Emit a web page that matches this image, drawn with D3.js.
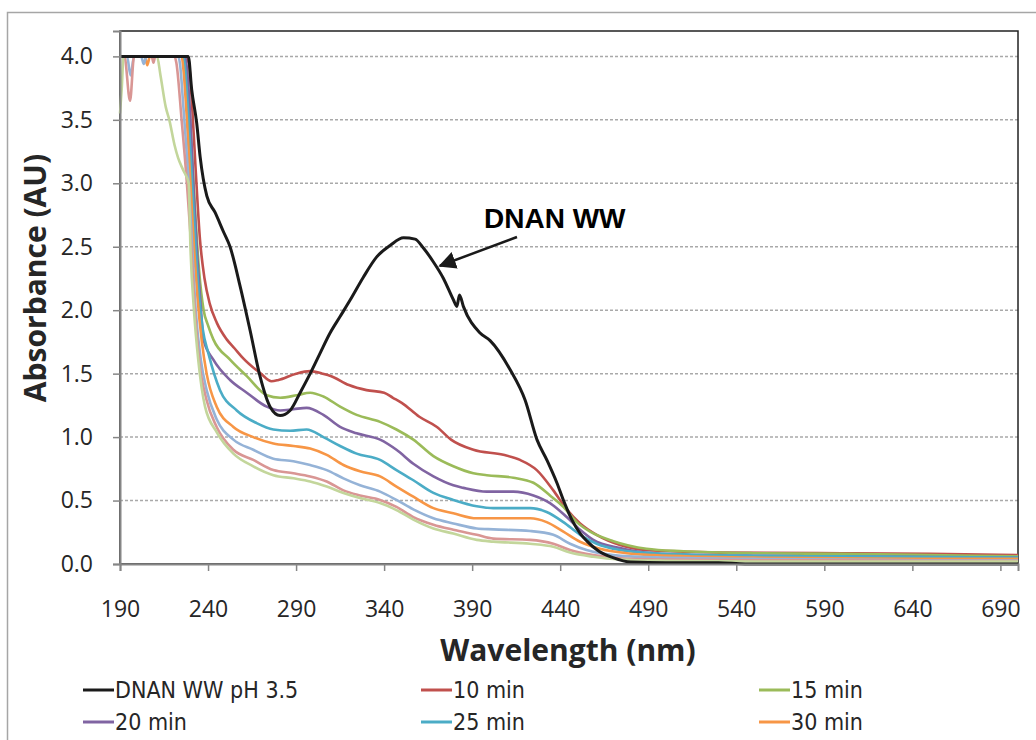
<!DOCTYPE html>
<html><head><meta charset="utf-8">
<script src="https://cdn.jsdelivr.net/npm/d3@7"></script>
<style>html,body{margin:0;padding:0;background:#fff;}svg{display:block;}</style>
</head><body>
<svg id="chart" width="1036" height="740"></svg>
<script>
// ---- data ----
const xTicks = [190,240,290,340,390,440,490,540,590,640,690];
const yTicks = [0,0.5,1.0,1.5,2.0,2.5,3.0,3.5,4.0];
const seriesNames = ["DNAN WW pH 3.5","10 min","15 min","20 min","25 min","30 min","35 min","40 min","45 min"];
const seriesColors = ["#1a1a1a","#C0504D","#9BBB59","#8064A2","#4BACC6","#F79646","#95B3D7","#D99694","#C3D69B"];
const legendVisibleCount = 6; // the reference frame cuts the legend after two rows

const dnanWW = [[190,4.0],[228.8,4.0],[230.7,3.74],[233.6,3.47],[235.5,3.21],[239.3,2.90],[244,2.77],[248.7,2.62],[252.5,2.50],[258.2,2.19],[263.9,1.84],[269.5,1.48],[275.2,1.24],[280.9,1.17],[286.6,1.21],[292.3,1.35],[298,1.50],[303.6,1.66],[309.3,1.82],[315,1.95],[320.7,2.08],[328.2,2.26],[335.8,2.42],[343.4,2.51],[351,2.57],[357.6,2.56],[362.3,2.49],[368,2.38],[373.7,2.25],[379.4,2.08],[381.3,2.03],[382.8,2.12],[385,2.03],[394.5,1.82],[400.2,1.76],[411.6,1.53],[420.1,1.29],[426.8,0.98],[432.4,0.82],[438.1,0.64],[441.9,0.50],[446.6,0.35],[451.4,0.24],[455.2,0.18],[462,0.10],[470,0.05],[480,0.015],[500,0.01],[530,0.01],[545,0.0],[700,0.0]];
const min10 = [[190,4.0],[226,4.0],[229,3.95],[231,3.6],[233,3.1],[235.4,2.56],[238,2.25],[241,2.05],[245,1.9],[250.6,1.77],[255,1.70],[260,1.62],[270,1.50],[276,1.44],[280,1.45],[290,1.50],[298,1.52],[305,1.50],[310,1.48],[320,1.41],[330,1.37],[340,1.35],[345,1.31],[350,1.27],[360,1.16],[370,1.08],[378,0.98],[390.7,0.90],[407.7,0.86],[417.2,0.82],[426.7,0.74],[436.1,0.58],[443.7,0.43],[451.3,0.32],[460.7,0.23],[474,0.15],[489,0.11],[512,0.097],[531,0.09],[600,0.085],[650,0.08],[700,0.07]];
const min15 = [[190,4.0],[226,4.0],[228,3.9],[229,3.7],[231,3.2],[233,2.7],[235,2.3],[237.5,2.0],[240,1.88],[243,1.77],[252.5,1.61],[262,1.48],[273.3,1.33],[281,1.31],[290.4,1.33],[298,1.35],[305.5,1.32],[315,1.24],[324.4,1.175],[337.7,1.12],[347,1.06],[356.6,0.98],[368,0.85],[379.3,0.77],[390.7,0.715],[398.3,0.70],[413.4,0.68],[424.8,0.64],[434.2,0.54],[441.8,0.45],[449.4,0.33],[457,0.255],[470.2,0.18],[489,0.12],[510,0.10],[550,0.085],[600,0.08],[650,0.07],[700,0.06]];
const min20 = [[190,4.0],[227,4.0],[228,3.9],[230,3.5],[232,2.9],[234,2.4],[236,2.0],[237.4,1.77],[243,1.61],[252.5,1.45],[262,1.35],[273.3,1.24],[281,1.21],[288.5,1.22],[296,1.23],[305.5,1.175],[315,1.08],[324.4,1.03],[337.7,0.98],[347,0.90],[356.6,0.79],[368,0.69],[379.3,0.62],[385,0.60],[398.3,0.57],[413.4,0.57],[424.8,0.54],[434.2,0.48],[443.7,0.37],[451.3,0.27],[458.8,0.19],[474,0.125],[493,0.085],[550,0.065],[600,0.06],[650,0.055],[700,0.05]];
const min25 = [[190,4.0],[226,4.0],[227,3.9],[229,3.5],[231,3.0],[233,2.5],[235,2.1],[237,1.85],[240.2,1.66],[246.8,1.37],[256.3,1.21],[267.6,1.11],[277.1,1.06],[286.6,1.05],[296,1.06],[305.5,1.00],[315,0.93],[324.4,0.87],[337.7,0.82],[347,0.74],[356.6,0.66],[368,0.56],[379.3,0.505],[392.6,0.455],[402,0.44],[422.9,0.44],[432.3,0.41],[441.8,0.33],[451.3,0.23],[460.7,0.16],[474,0.11],[493,0.085],[550,0.065],[600,0.06],[650,0.055],[700,0.05]];
const min30 = [[190,4.0],[204,4.0],[205.5,3.93],[207,4.0],[225,4.0],[226,3.9],[228,3.5],[230,3.0],[232,2.5],[234,2.1],[236.5,1.75],[239.2,1.50],[244.9,1.24],[254.4,1.08],[265.7,1.00],[277.1,0.95],[288.5,0.93],[298,0.91],[307.4,0.86],[316.9,0.78],[326.3,0.73],[337.7,0.69],[347,0.61],[356.6,0.53],[368,0.44],[379.3,0.40],[392.6,0.36],[402,0.36],[422.9,0.36],[432.3,0.33],[441.8,0.255],[451.3,0.175],[462.6,0.12],[477.8,0.085],[493,0.07],[550,0.05],[600,0.045],[650,0.04],[700,0.04]];
const min35 = [[190,4.0],[194,4.0],[196,3.85],[198,4.0],[202,4.0],[203.5,3.94],[205,4.0],[223,4.0],[224,3.95],[226,3.6],[229,3.0],[231,2.5],[233,2.0],[236,1.6],[239.2,1.37],[244.9,1.14],[254.4,0.98],[265.7,0.90],[277.1,0.83],[288.5,0.81],[298,0.78],[307.4,0.74],[316.9,0.675],[326.3,0.62],[337.7,0.57],[347,0.505],[356.6,0.43],[368,0.36],[379.3,0.32],[392.6,0.28],[402,0.273],[422.9,0.26],[436.1,0.23],[445.6,0.16],[455,0.11],[470.2,0.07],[493,0.052],[550,0.04],[600,0.035],[650,0.03],[700,0.03]];
const min40 = [[190,4.0],[192.5,4.0],[195.7,3.65],[198,4.0],[208,4.0],[209,3.95],[210,4.0],[221,4.0],[222,3.95],[225,3.5],[228,3.0],[230,2.6],[232,2.1],[235,1.6],[239.2,1.29],[244.9,1.08],[254.4,0.90],[265.7,0.82],[277.1,0.74],[288.5,0.715],[298,0.69],[307.4,0.65],[316.9,0.58],[326.3,0.54],[337.7,0.505],[347,0.45],[356.6,0.37],[368,0.31],[379.3,0.27],[392.6,0.23],[402,0.20],[422.9,0.19],[436.1,0.16],[445.6,0.11],[458.8,0.07],[474,0.045],[500,0.035],[550,0.03],[600,0.03],[650,0.025],[700,0.025]];
const min45 = [[190,3.55],[191,3.75],[192,4.0],[211,4.0],[213,3.85],[216,3.6],[218,3.5],[221,3.3],[223,3.2],[226,3.1],[229,3.0],[230,2.5],[232,2.0],[234.5,1.6],[238.3,1.24],[244.9,1.04],[254.4,0.87],[265.7,0.77],[277.1,0.70],[288.5,0.675],[298,0.65],[307.4,0.61],[316.9,0.56],[326.3,0.52],[337.7,0.48],[347,0.425],[356.6,0.35],[368,0.28],[379.3,0.24],[392.6,0.19],[402,0.176],[422.9,0.16],[436.1,0.136],[445.6,0.09],[458.8,0.057],[474,0.036],[500,0.026],[550,0.02],[600,0.02],[650,0.02],[700,0.02]];
const seriesData = [dnanWW,min10,min15,min20,min25,min30,min35,min40,min45];

const annotationText = "DNAN WW";
const annotationTip = [371.7, 2.35];
const xTitle = "Wavelength (nm)";
const yTitle = "Absorbance (AU)";

// ---- layout ----
const L = 120, R = 1018, T = 31, B = 564;
const svg = d3.select("#chart");
const x = d3.scaleLinear().domain([190,700]).range([L,R]);
const y = d3.scaleLinear().domain([0,4.2]).range([B,T]);

// outer chart border
svg.append("rect").attr("x",7.5).attr("y",12.5).attr("width",1100).attr("height",800)
  .attr("fill","none").attr("stroke","#a6a6a6").attr("stroke-width",1.5);

// gridlines
svg.append("g").selectAll("line").data(yTicks.filter(d=>d>0)).join("line")
  .attr("x1",L).attr("x2",R).attr("y1",d=>y(d)).attr("y2",d=>y(d))
  .attr("stroke","#a9a9a9").attr("stroke-width",1.5).attr("stroke-dasharray","3,2");

// plot area border
svg.append("rect").attr("x",L).attr("y",T).attr("width",R-L).attr("height",B-T)
  .attr("fill","none").attr("stroke","#222").attr("stroke-width",1.5);

// series lines
const line = d3.line().x(d=>x(d[0])).y(d=>y(d[1])).curve(d3.curveMonotoneX);
const order = [1,2,3,4,5,6,7,8,0];
svg.append("g").selectAll("path").data(order).join("path")
  .attr("d",i=>line(seriesData[i])).attr("fill","none")
  .attr("stroke",i=>seriesColors[i]).attr("stroke-width",i=>i===0?3:2.6)
  .attr("stroke-linejoin","round");

// axes
const fontTick = "'Open Sans', sans-serif";
const yAxis = svg.append("g").attr("transform",`translate(${L},0)`)
  .call(d3.axisLeft(y).tickValues(yTicks).tickFormat(d3.format(".1f")).tickSize(7).tickPadding(20));
const xAxis = svg.append("g").attr("transform",`translate(0,${B})`)
  .call(d3.axisBottom(x).tickValues(xTicks).tickFormat(d3.format("d")).tickSize(7).tickPadding(30));
[yAxis,xAxis].forEach(a=>{
  a.select(".domain").attr("stroke","#868686").attr("stroke-width",2);
  a.selectAll(".tick line").attr("stroke","#868686").attr("stroke-width",1.5);
  a.selectAll(".tick text").attr("fill","#262626").style("font-family",fontTick).style("font-size","23px");
});

// axis titles
svg.append("text").attr("x",568).attr("y",661).attr("text-anchor","middle")
  .style("font-family",fontTick).style("font-weight","bold").style("font-size","30px").attr("fill","#262626").text(xTitle);
svg.append("text").attr("transform","translate(46,278) rotate(-90)").attr("text-anchor","middle")
  .style("font-family",fontTick).style("font-weight","bold").style("font-size","30px").attr("fill","#262626").text(yTitle);

// annotation
svg.append("defs").append("marker").attr("id","arr").attr("viewBox","0 0 10 10").attr("refX",9).attr("refY",5)
  .attr("markerWidth",7).attr("markerHeight",7).attr("orient","auto")
  .append("path").attr("d","M0,0 L10,5 L0,10 z").attr("fill","#1a1a1a");
svg.append("line").attr("x1",517).attr("y1",237).attr("x2",x(annotationTip[0])).attr("y2",y(annotationTip[1]))
  .attr("stroke","#1a1a1a").attr("stroke-width",2.5).attr("marker-end","url(#arr)");
svg.append("text").attr("x",484).attr("y",228)
  .style("font-family","'Liberation Sans', Arial, sans-serif").style("font-weight","bold").style("font-size","28px")
  .attr("fill","#000").text(annotationText);

// legend (3 columns, rows cut by the frame as in the reference)
const legX = [83,421,759], legY = [690,722];
const leg = svg.append("g").selectAll("g").data(seriesNames.slice(0,legendVisibleCount)).join("g")
  .attr("transform",(d,i)=>`translate(${legX[i%3]},${legY[Math.floor(i/3)]})`);
leg.append("line").attr("x1",0).attr("x2",31).attr("y1",0).attr("y2",0)
  .attr("stroke",(d,i)=>seriesColors[i]).attr("stroke-width",3);
leg.append("text").attr("x",32).attr("y",0).attr("dy","0.35em")
  .style("font-family","'Liberation Sans Narrow','DejaVu Sans Condensed',sans-serif").style("font-size","23px")
  .attr("fill","#262626").text(d=>d);
</script>
</body></html>
